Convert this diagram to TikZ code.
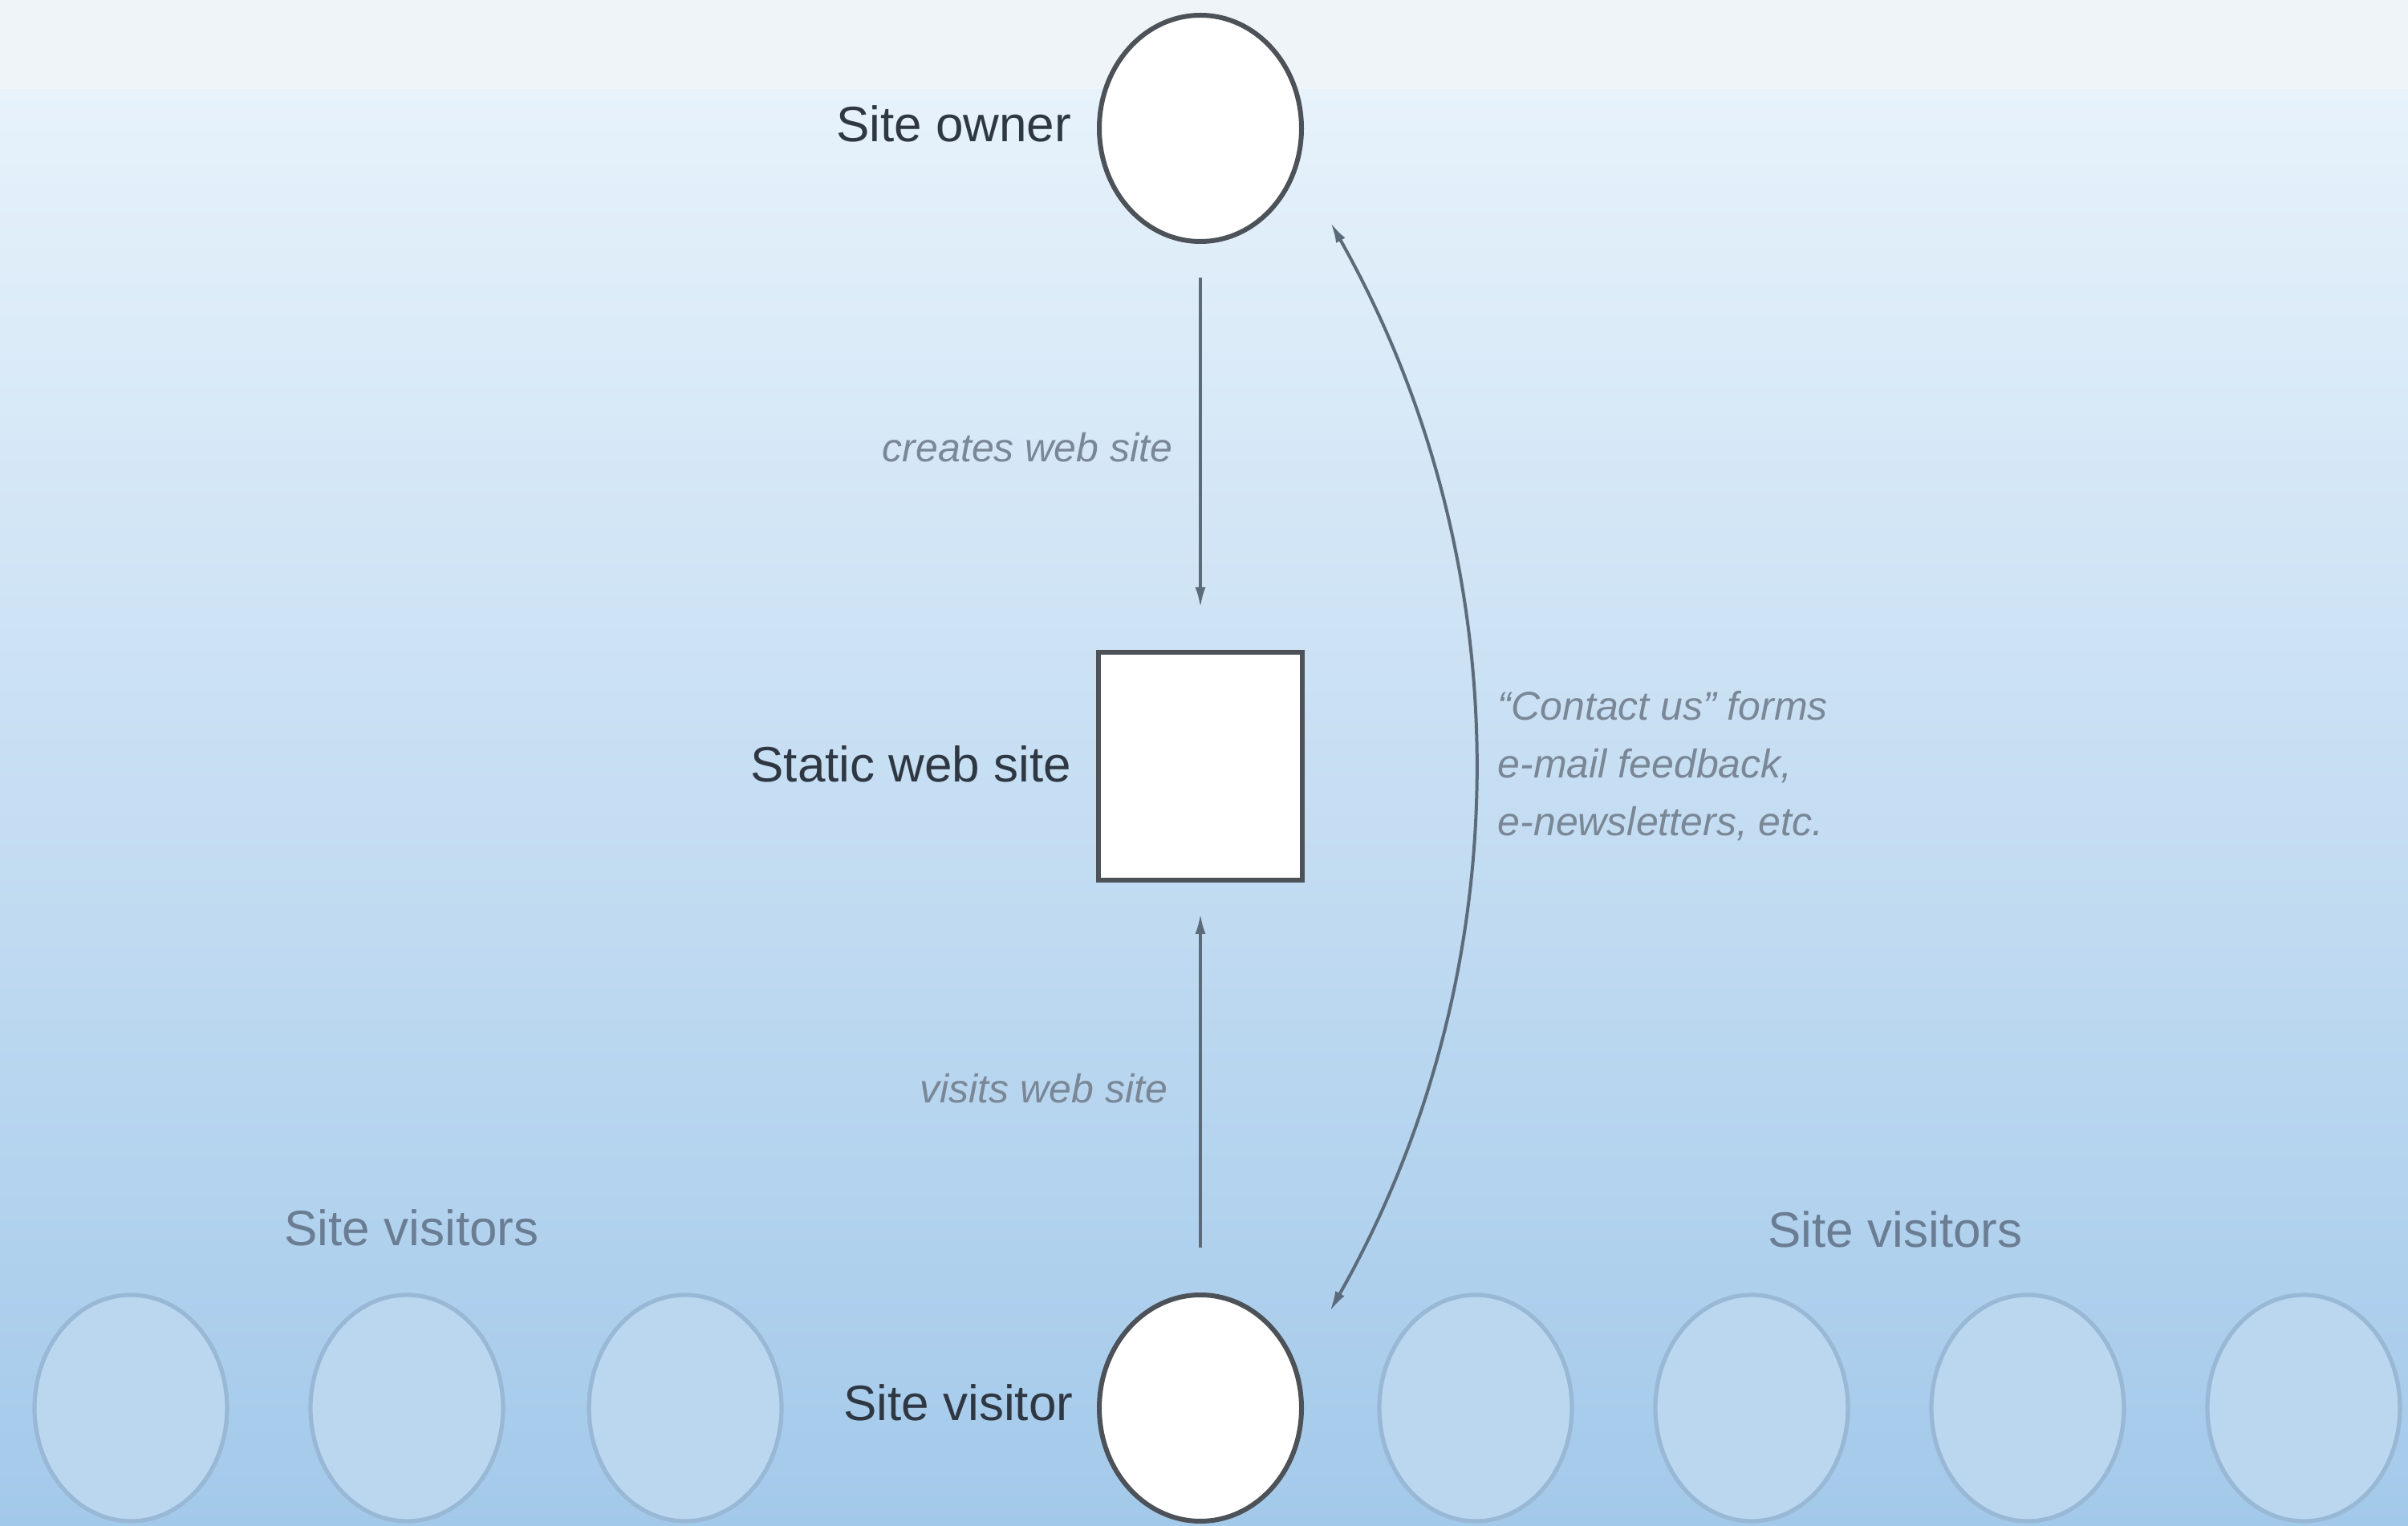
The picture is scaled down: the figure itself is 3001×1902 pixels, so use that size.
\documentclass[tikz,border=0pt]{standalone}
\usepackage{fontspec}
\setmainfont{Liberation Sans}
\usetikzlibrary{arrows.meta,calc,shapes.geometric}
\definecolor{bgtop}{HTML}{EFF4F8}
\definecolor{bgA}{HTML}{E7F2FB}
\definecolor{bgB}{HTML}{C9DEF3}
\definecolor{bgC}{HTML}{A3C9EA}
\definecolor{inkmain}{HTML}{2E3742}
\definecolor{inklabel}{HTML}{7A8796}
\definecolor{inkcrowd}{HTML}{6A7D93}
\definecolor{edgemain}{HTML}{4D5259}
\definecolor{arrowcol}{HTML}{5C6B7A}
\definecolor{crowdfill}{HTML}{BAD7EF}
\definecolor{crowdedge}{HTML}{98B8D6}
\tikzset{
  person/.style={ellipse, draw=edgemain, fill=white, line width=1.5pt, minimum width=63pt, minimum height=70.5pt, inner sep=0pt},
  crowd/.style={ellipse, draw=crowdedge, fill=crowdfill, line width=1.3pt, minimum width=60pt, minimum height=70.5pt, inner sep=0pt},
  sitebox/.style={rectangle, draw=edgemain, fill=white, line width=1.5pt, minimum width=63.5pt, minimum height=71pt, inner sep=0pt},
  mainlabel/.style={inner sep=0pt, text=inkmain, font=\fontsize{15.5}{18}\selectfont},
  crowdlabel/.style={inner sep=0pt, text=inkcrowd, font=\fontsize{15.5}{18}\selectfont},
  flowlabel/.style={inner sep=0pt, text=inklabel, font=\fontsize{12.5}{18}\selectfont\itshape},
  arr/.style={draw=arrowcol, line width=1pt, -{Latex[length=6.5pt,width=3.2pt]}},
  biarr/.style={draw=arrowcol, line width=1pt, {Latex[length=6.5pt,width=3.2pt]}-{Latex[length=6.5pt,width=3.2pt]}}
}
\begin{document}
\begin{tikzpicture}[x=0.25pt,y=-0.25pt]
\useasboundingbox (0,0) rectangle (3001,1902);
% background
\fill[bgtop] (0,0) rectangle (3001,115);
\shade[top color=bgA, middle color=bgB, bottom color=bgC] (0,112) rectangle (3001,1902);

% main nodes
\node[person] (owner) at (1496,160) {};
\node[sitebox] (site) at (1496,955) {};
\node[person] (visitor) at (1496,1755) {};

% crowd
\node[crowd] (v1) at (163,1755) {};
\node[crowd] (v2) at (507,1755) {};
\node[crowd] (v3) at (854,1755) {};
\node[crowd] (v4) at (1839,1755) {};
\node[crowd] (v5) at (2183,1755) {};
\node[crowd] (v6) at (2527,1755) {};
\node[crowd] (v7) at (2871,1755) {};

% labels
\node[mainlabel, anchor=base east] (lowner) at (1336,177) {Site owner};
\node[mainlabel, anchor=base east] (lsite) at (1336,975) {Static web site};
\node[mainlabel, anchor=base east] (lvisitor) at (1338,1770) {Site visitor};
\node[crowdlabel, anchor=base] (lcrowdL) at (513,1553) {Site visitors};
\node[crowdlabel, anchor=base] (lcrowdR) at (2362,1555) {Site visitors};

\node[flowlabel, anchor=base east] (lcreates) at (1462,576) {creates web site};
\node[flowlabel, anchor=base east] (lvisits) at (1456,1375) {visits web site};
\node[flowlabel, anchor=base west] (lcontact1) at (1866,898) {“Contact us” forms};
\node[flowlabel, anchor=base west] (lcontact2) at (1866,970) {e-mail feedback,};
\node[flowlabel, anchor=base west] (lcontact3) at (1866,1042) {e-newsletters, etc.};

% connectors
\draw[arr, shorten <=10.5pt, shorten >=13pt] (owner.south) -- (site.north);
\draw[arr, shorten <=14pt, shorten >=9.5pt] (visitor.north) -- (site.south);
\coordinate (ctop) at ($(owner.center)+(162,117)$);
\coordinate (cbot) at ($(visitor.center)+(161,-120)$);
\draw[biarr] (ctop) .. controls +(240,425) and +(241,-425) .. (cbot);
\end{tikzpicture}
\end{document}
